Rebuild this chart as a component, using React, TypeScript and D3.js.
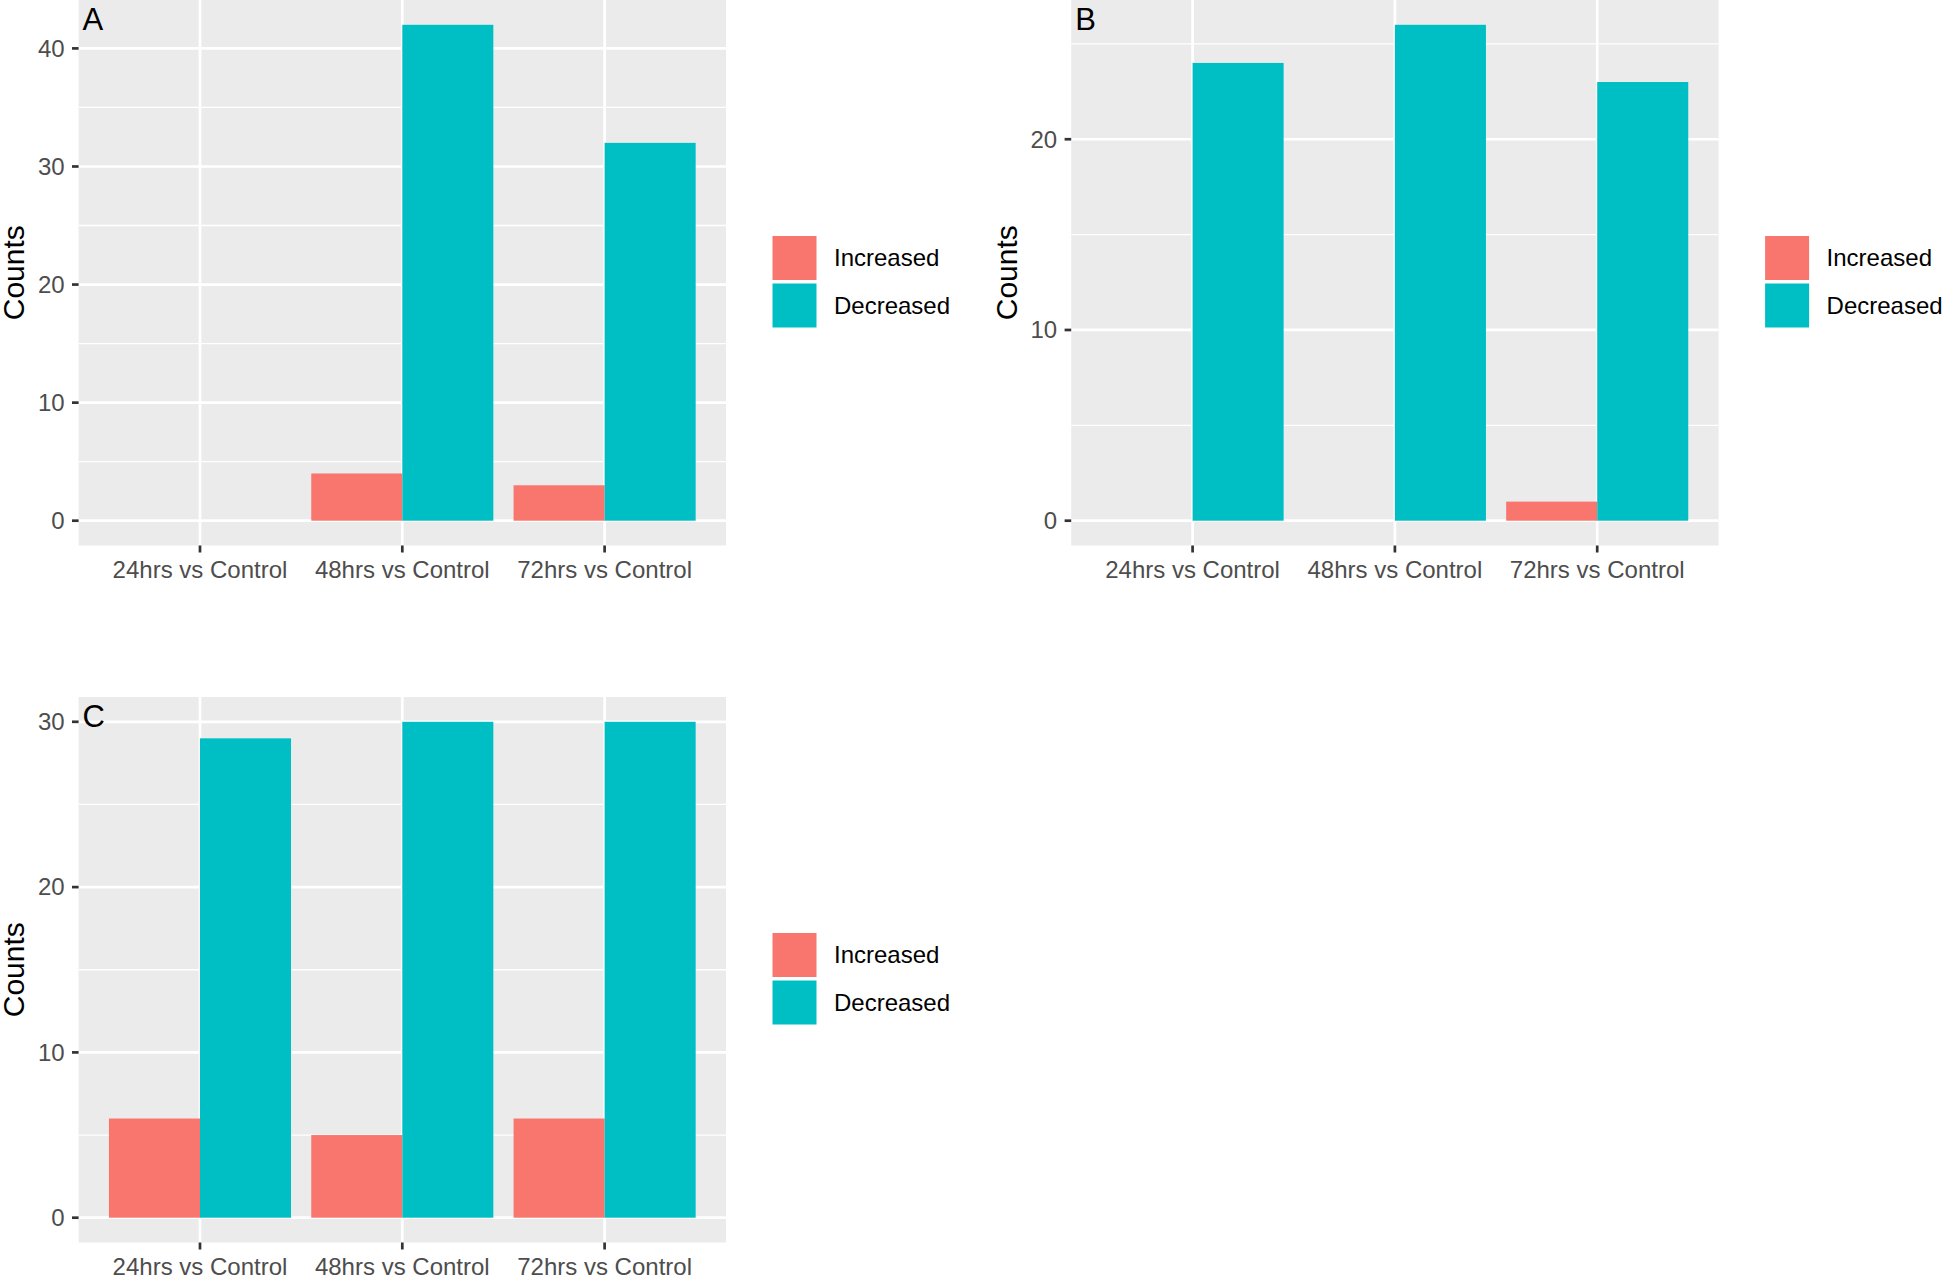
import React from "react";
import * as d3 from "d3";

const categories = ["24hrs vs Control", "48hrs vs Control", "72hrs vs Control"];
const seriesNames = ["Increased", "Decreased"];
const seriesColors = ["#F8766D", "#00BFC4"];

const panelLabels = ["A", "B", "C"];
const increasedA = [0, 4, 3];
const decreasedA = [0, 42, 32];
const increasedB = [0, 0, 1];
const decreasedB = [24, 26, 23];
const increasedC = [6, 5, 6];
const decreasedC = [29, 30, 30];
const yTicksA = [0, 10, 20, 30, 40];
const yTicksB = [0, 10, 20];
const yTicksC = [0, 10, 20, 30];

const W = 1946;
const H = 1276;
const PANEL_W = 647.4;
const PANEL_H = 545.5;
const FONT = "'Liberation Sans', Arial, Helvetica, sans-serif";

type PanelProps = {
  label: string;
  inc: number[];
  dec: number[];
  ticks: number[];
  left: number;
  top: number;
};

function Panel({ label, inc, dec, ticks, left, top }: PanelProps) {
  const maxV = d3.max([...inc, ...dec]) as number;
  const pad = maxV * 0.05;
  const y = d3.scaleLinear().domain([-pad, maxV + pad]).range([top + PANEL_H, top]);
  // discrete axis: range [0.4, 3.6]
  const xc = d3.scaleLinear().domain([0.4, categories.length + 0.6]).range([left, left + PANEL_W]);
  const barW = xc(1.45) - xc(1);
  const right = left + PANEL_W;
  const bottom = top + PANEL_H;

  const step = ticks[1] - ticks[0];
  const minor: number[] = [];
  for (let v = ticks[0] - step / 2; v <= maxV + pad; v += step) {
    if (v >= -pad && v <= maxV + pad) minor.push(v);
  }

  const series = [inc, dec];

  return (
    <g>
      <rect x={left} y={top} width={PANEL_W} height={PANEL_H} fill="#EBEBEB" />
      {minor.map((v) => (
        <line key={"mn" + v} x1={left} x2={right} y1={y(v)} y2={y(v)} stroke="#FFFFFF" strokeWidth={1.35} />
      ))}
      {ticks.map((v) => (
        <line key={"mj" + v} x1={left} x2={right} y1={y(v)} y2={y(v)} stroke="#FFFFFF" strokeWidth={2.7} />
      ))}
      {categories.map((c, i) => (
        <line key={"vx" + c} x1={xc(i + 1)} x2={xc(i + 1)} y1={top} y2={bottom} stroke="#FFFFFF" strokeWidth={2.7} />
      ))}
      {categories.map((c, i) =>
        series.map((s, si) => {
          const x0 = xc(i + 1) - barW + si * barW;
          const v = s[i];
          return (
            <rect
              key={c + si}
              x={x0}
              y={Math.min(y(v), y(0))}
              width={barW}
              height={Math.abs(y(0) - y(v))}
              fill={seriesColors[si]}
            />
          );
        })
      )}
      {/* y axis */}
      {ticks.map((v) => (
        <g key={"yt" + v}>
          <line x1={left - 6.6} x2={left} y1={y(v)} y2={y(v)} stroke="#333333" strokeWidth={2.7} />
          <text x={left - 14} y={y(v)} dy="0.35em" textAnchor="end" fontSize={24} fill="#4D4D4D" fontFamily={FONT}>
            {v}
          </text>
        </g>
      ))}
      {/* x axis */}
      {categories.map((c, i) => (
        <g key={"xt" + c}>
          <line x1={xc(i + 1)} x2={xc(i + 1)} y1={bottom} y2={bottom + 7} stroke="#333333" strokeWidth={2.7} />
          <text x={xc(i + 1)} y={bottom + 32} textAnchor="middle" fontSize={24} fill="#4D4D4D" fontFamily={FONT}>
            {c}
          </text>
        </g>
      ))}
      {/* y title */}
      <text
        transform={`translate(${left - 54.5}, ${top + PANEL_H / 2}) rotate(-90)`}
        textAnchor="middle"
        fontSize={30}
        fill="#000000"
        fontFamily={FONT}
      >
        Counts
      </text>
      {/* panel tag */}
      <text x={left + 4} y={top + 29.5} fontSize={31} fill="#000000" fontFamily={FONT}>
        {label}
      </text>
      {/* legend */}
      {seriesNames.map((n, si) => {
        const ky = top + 236 + si * 47.5;
        return (
          <g key={"lg" + n}>
            <rect x={right + 46.5} y={ky} width={44} height={44} fill={seriesColors[si]} />
            <text x={right + 108} y={ky + 22} dy="0.35em" fontSize={24} fill="#000000" fontFamily={FONT}>
              {n}
            </text>
          </g>
        );
      })}
    </g>
  );
}

export default function App() {
  return (
    <svg
      width={W}
      height={H}
      style={{ position: "absolute", left: 0, top: 0, background: "#FFFFFF" }}
    >
      <rect x={0} y={0} width={W} height={H} fill="#FFFFFF" />
      <Panel label={panelLabels[0]} inc={increasedA} dec={decreasedA} ticks={yTicksA} left={78.6} top={0} />
      <Panel label={panelLabels[1]} inc={increasedB} dec={decreasedB} ticks={yTicksB} left={1071.2} top={0} />
      <Panel label={panelLabels[2]} inc={increasedC} dec={decreasedC} ticks={yTicksC} left={78.6} top={697} />
    </svg>
  );
}
